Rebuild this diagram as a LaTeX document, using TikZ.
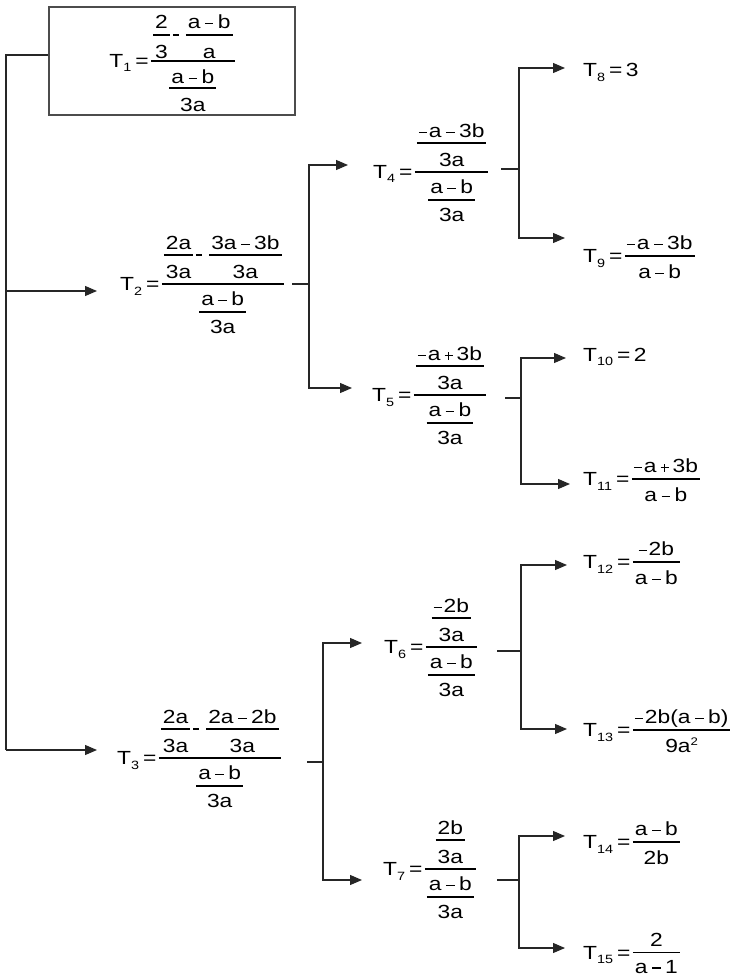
\documentclass[tikz,border=0pt]{standalone}
\usepackage{fontspec}
\setmainfont{Liberation Sans}[FakeStretch=1.2]
\usetikzlibrary{arrows.meta}
% stacked fraction: {num}{den}{raise of num}{drop of den}; bar sits 6.5pt above baseline
\newcommand\myFr[4]{{%
  \setbox0\hbox{#1}\setbox2\hbox{#2}%
  \dimen0=\wd0 \ifdim\wd2>\dimen0 \dimen0=\wd2 \fi
  \advance\dimen0 by 4pt
  \hbox to\dimen0{%
    \rlap{\hbox to\dimen0{\hss\raise#3\box0\hss}}%
    \rlap{\hbox to\dimen0{\hss\lower#4\box2\hss}}%
    \vrule height 7.15pt depth -5.85pt width\dimen0}}}
\newcommand\fxS[2]{\myFr{#1}{#2}{13pt}{16pt}}
\newcommand\fxN[2]{\myFr{#1}{#2}{12pt}{17pt}}
\newcommand\fxD[2]{\myFr{#1}{#2}{13pt}{15pt}}
\newcommand\fxO[2]{\myFr{#1}{#2}{29pt}{28pt}}
\newcommand\mminus{\kern4.5pt\vrule height 5.7pt depth -4.3pt width 8.5pt\kern4.5pt}
\newcommand\lminus{\vrule height 5.7pt depth -4.3pt width 8pt\kern2pt}
\newcommand\mplus{\kern4pt\rlap{\vrule height 5.7pt depth -4.3pt width 8pt}\kern3.3pt\vrule height 9pt depth -1pt width 1.4pt\kern3.3pt\kern4pt}
\newcommand\smminus{\kern3pt\vrule height 7.2pt depth -5.8pt width 6pt\kern7pt}
\newcommand\lhs[1]{T\lower4.5pt\hbox{\fontsize{12}{12}\selectfont #1}\kern4pt=\kern2.5pt}
\newcommand\ab{a\mminus b}
\tikzset{
  expr/.style={inner sep=0pt, anchor=base west, font=\fontsize{19}{23}\selectfont},
  ln/.style={line width=1.2pt, draw=black!85},
  arr/.style={ln, -{Triangle[length=12pt,width=10pt]}}
}
\begin{document}
\begin{tikzpicture}[x=1pt,y=-1pt]
\useasboundingbox (0,0) rectangle (742,976);
% expressions (anchor at baseline; main bar = baseline - 6.5pt)
\node[expr, anchor=center, draw=black!70, line width=1.2pt, text height=56pt, text depth=43pt,
      minimum width=246pt, minimum height=108pt] (T1) at (172,61)
  {\lhs{1}\myFr{\myFr{2}{3}{13pt}{17pt}\smminus\myFr{\ab}{a}{13pt}{17pt}}{\myFr{\ab}{3a}{11pt}{17pt}}{26pt}{27pt}};
\node[expr] (T2) at (120,290.5)
  {\lhs{2}\fxO{\fxN{2a}{3a}\smminus\fxN{3a\mminus 3b}{3a}}{\fxD{\ab}{3a}}};
\node[expr] (T3) at (117,764.5)
  {\lhs{3}\fxO{\fxN{2a}{3a}\smminus\fxN{2a\mminus 2b}{3a}}{\fxD{\ab}{3a}}};
\node[expr] (T4) at (373,178.5)
  {\lhs{4}\fxO{\fxN{\lminus a\mminus 3b}{3a}}{\fxD{\ab}{3a}}};
\node[expr] (T5) at (372,401.5)
  {\lhs{5}\fxO{\fxN{\lminus a\mplus 3b}{3a}}{\fxD{\ab}{3a}}};
\node[expr] (T6) at (384,653.5)
  {\lhs{6}\fxO{\fxN{\lminus 2b}{3a}}{\fxD{\ab}{3a}}};
\node[expr] (T7) at (383,875.5)
  {\lhs{7}\fxO{\fxN{2b}{3a}}{\fxD{\ab}{3a}}};
\node[expr] (T8) at (583,77) {\lhs{8}\kern1pt 3};
\node[expr] (T9) at (583,262.5) {\lhs{9}\fxS{\lminus a\mminus 3b}{\ab}};
\node[expr] (T10) at (583,361) {\lhs{10}\kern1pt 2};
\node[expr] (T11) at (583,485.5) {\lhs{11}\fxS{\lminus a\mplus 3b}{\ab}};
\node[expr] (T12) at (583,568.5) {\lhs{12}\fxS{\lminus 2b}{\ab}};
\node[expr] (T13) at (583,736.5) {\lhs{13}\fxS{\lminus 2b(a\mminus b)}{9a\raise7.5pt\hbox{\fontsize{11}{11}\selectfont 2}}};
\node[expr] (T14) at (583,848.5) {\lhs{14}\fxS{\ab}{2b}};
\node[expr] (T15) at (583,959) {\lhs{15}\myFr{2}{a\mminus 1}{13pt}{14pt}};
% junction coordinates
\coordinate (j1) at (6,55);
\coordinate (e2) at (97,291);
\coordinate (e3) at (97,750);
\coordinate (s2) at (292,284);   \coordinate (j2) at (309,284);
\coordinate (e4) at (348,165);   \coordinate (e5) at (352,388);
\coordinate (s4) at (501,169);   \coordinate (j4) at (519,169);
\coordinate (e8) at (565,68);    \coordinate (e9) at (565,238);
\coordinate (s5) at (505,398);   \coordinate (j5) at (521,398);
\coordinate (e10) at (566,358);  \coordinate (e11) at (570,484);
\coordinate (s3) at (307,762);   \coordinate (j3) at (323,762);
\coordinate (e6) at (362,643);   \coordinate (e7) at (362,880);
\coordinate (s6) at (497,651);   \coordinate (j6) at (521,651);
\coordinate (e12) at (567,565);  \coordinate (e13) at (567,729);
\coordinate (s7) at (497,880);   \coordinate (j7) at (519,880);
\coordinate (e14) at (565,836);  \coordinate (e15) at (565,948);
% connectors
\draw[ln] (T1.west |- j1) -- (j1) -- (j1 |- e3);
\draw[arr] (j1 |- e2) -- (e2);
\draw[arr] (j1 |- e3) -- (e3);
\draw[ln] (s2) -- (j2);
\draw[arr] (j2) |- (e4);
\draw[arr] (j2) |- (e5);
\draw[ln] (s4) -- (j4);
\draw[arr] (j4) |- (e8);
\draw[arr] (j4) |- (e9);
\draw[ln] (s5) -- (j5);
\draw[arr] (j5) |- (e10);
\draw[arr] (j5) |- (e11);
\draw[ln] (s3) -- (j3);
\draw[arr] (j3) |- (e6);
\draw[arr] (j3) |- (e7);
\draw[ln] (s6) -- (j6);
\draw[arr] (j6) |- (e12);
\draw[arr] (j6) |- (e13);
\draw[ln] (s7) -- (j7);
\draw[arr] (j7) |- (e14);
\draw[arr] (j7) |- (e15);
\end{tikzpicture}
\end{document}
